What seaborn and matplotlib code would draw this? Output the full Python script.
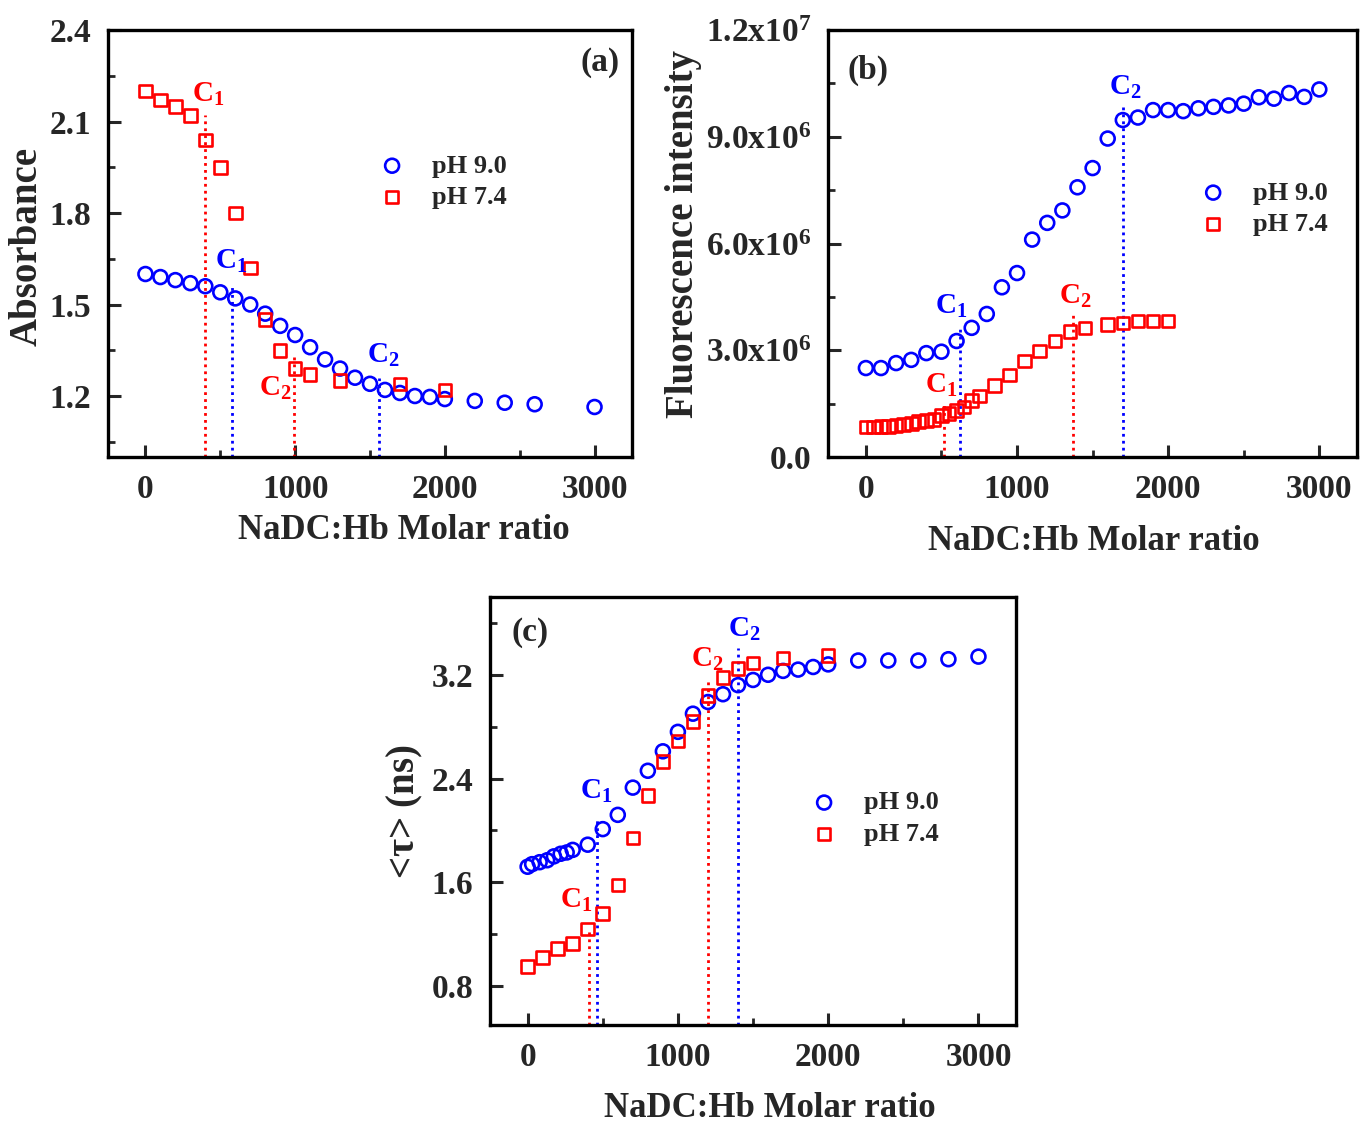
import numpy as np
import matplotlib
matplotlib.use("Agg")
import matplotlib.pyplot as plt
import seaborn as sns
from matplotlib.ticker import MultipleLocator, FixedLocator, FixedFormatter

# ---- panel (a): absorbance ----
abs_x_90 = [0, 100, 200, 300, 400, 500, 600, 700, 800, 900, 1000, 1100, 1200,
            1300, 1400, 1500, 1600, 1700, 1800, 1900, 2000, 2200, 2400, 2600, 3000]
abs_y_90 = [1.60, 1.59, 1.58, 1.57, 1.56, 1.54, 1.52, 1.50, 1.47, 1.43, 1.40, 1.36,
            1.32, 1.29, 1.26, 1.24, 1.22, 1.21, 1.20, 1.197, 1.19, 1.184, 1.178,
            1.173, 1.164]
abs_x_74 = [0, 100, 200, 300, 400, 500, 600, 700, 800, 900, 1000, 1100, 1300, 1700, 2000]
abs_y_74 = [2.20, 2.17, 2.15, 2.12, 2.04, 1.95, 1.80, 1.62, 1.45, 1.35, 1.29, 1.27,
            1.25, 1.24, 1.22]

# ---- panel (b): fluorescence intensity (x10^6) ----
fl_x_90 = [0, 100, 200, 300, 400, 500, 600, 700, 800, 900, 1000, 1100, 1200, 1300,
           1400, 1500, 1600, 1700, 1800, 1900, 2000, 2100, 2200, 2300, 2400, 2500,
           2600, 2700, 2800, 2900, 3000]
fl_y_90 = [2.50, 2.50, 2.64, 2.73, 2.92, 2.96, 3.26, 3.63, 4.02, 4.77, 5.17, 6.11,
           6.58, 6.93, 7.58, 8.12, 8.95, 9.47, 9.54, 9.75, 9.75, 9.72, 9.80, 9.84,
           9.88, 9.93, 10.11, 10.07, 10.23, 10.12, 10.33]
fl_x_74 = [0, 50, 100, 150, 200, 250, 300, 350, 400, 450, 500, 550, 600, 650, 700,
           750, 850, 950, 1050, 1150, 1250, 1350, 1450, 1600, 1700, 1800, 1900, 2000]
fl_y_74 = [0.84, 0.84, 0.86, 0.86, 0.89, 0.92, 0.94, 1.00, 1.03, 1.06, 1.17, 1.22,
           1.31, 1.40, 1.59, 1.71, 2.01, 2.31, 2.70, 2.98, 3.26, 3.52, 3.63, 3.73,
           3.77, 3.82, 3.82, 3.82]

# ---- panel (c): average lifetime <tau> (ns) ----
tau_x_90 = [0, 30, 80, 130, 175, 220, 260, 300, 400, 500, 600, 700, 800, 900, 1000,
            1100, 1200, 1300, 1400, 1500, 1600, 1700, 1800, 1900, 2000, 2200, 2400,
            2600, 2800, 3000]
tau_y_90 = [1.72, 1.74, 1.755, 1.77, 1.80, 1.82, 1.83, 1.85, 1.89, 2.01, 2.12, 2.33,
            2.46, 2.61, 2.76, 2.90, 2.99, 3.05, 3.12, 3.16, 3.20, 3.23, 3.24, 3.26,
            3.28, 3.31, 3.31, 3.31, 3.32, 3.34]
tau_x_74 = [0, 100, 200, 300, 400, 500, 600, 700, 800, 900, 1000, 1100, 1200, 1300,
            1400, 1500, 1700, 2000]
tau_y_74 = [0.95, 1.02, 1.09, 1.13, 1.24, 1.36, 1.58, 1.94, 2.27, 2.53, 2.69, 2.84,
            3.04, 3.18, 3.25, 3.29, 3.33, 3.35]

# critical points: x position, top of dotted line, label position (x, y)
abs_cmc_90 = [580, 1560]
abs_top_90 = [1.56, 1.26]
abs_lab_90 = [(576, 1.64), (1587, 1.334)]
abs_cmc_74 = [400, 990]
abs_top_74 = [2.12, 1.34]
abs_lab_74 = [(420, 2.19), (870, 1.226)]

fl_cmc_90 = [625, 1700]
fl_top_90 = [3.63, 9.86]
fl_lab_90 = [(563, 4.24), (1715, 10.4)]
fl_cmc_74 = [520, 1370]
fl_top_74 = [1.50, 4.00]
fl_lab_74 = [(497, 2.0), (1384, 4.5)]

tau_cmc_90 = [460, 1400]
tau_top_90 = [2.08, 3.41]
tau_lab_90 = [(459, 2.30), (1443, 3.55)]
tau_cmc_74 = [410, 1200]
tau_top_74 = [1.24, 3.17]
tau_lab_74 = [(326, 1.46), (1197, 3.32)]

fl_ticks = [0, 3e6, 6e6, 9e6, 12e6]
fl_ticklabels = ["0.0", r"3.0x10$^{6}$", r"6.0x10$^{6}$", r"9.0x10$^{6}$", r"1.2x10$^{7}$"]
c_labels = [r"C$_{1}$", r"C$_{2}$"]
series_labels = ["pH 9.0", "pH 7.4"]
BLUE = "#0000ff"
RED = "#ff0000"

sns.set_theme(style="ticks")
plt.rcParams["font.family"] = ["Liberation Serif", "DejaVu Serif"]
plt.rcParams["font.weight"] = "bold"
plt.rcParams["axes.labelweight"] = "bold"
plt.rcParams["mathtext.fontset"] = "custom"
plt.rcParams["mathtext.rm"] = "Liberation Serif:bold"
plt.rcParams["mathtext.it"] = "Liberation Serif:bold"
plt.rcParams["mathtext.bf"] = "Liberation Serif:bold"

fig = plt.figure(figsize=(13.62, 11.24), dpi=100)
ax_a = fig.add_axes([0.0793, 0.5934, 0.3847, 0.3799])
ax_b = fig.add_axes([0.608, 0.5934, 0.3884, 0.3799])
ax_c = fig.add_axes([0.3598, 0.0881, 0.3862, 0.3808])


def draw_panel(ax, x90, y90, x74, y74, scale=1.0):
    sns.scatterplot(x=x90, y=np.array(y90) * scale, ax=ax, marker="o", s=100,
                    color=BLUE, facecolors="none", edgecolor=BLUE, linewidth=1.9,
                    label=series_labels[0], zorder=3)
    sns.scatterplot(x=x74, y=np.array(y74) * scale, ax=ax, marker="s", s=82,
                    color=RED, facecolors="none", edgecolor=RED, linewidth=1.9,
                    label=series_labels[1], zorder=3)


def draw_cmc(ax, xs, tops, labs, color, ybot, scale=1.0):
    for i, (xv, top) in enumerate(zip(xs, tops)):
        ax.vlines(xv, ybot, top * scale, colors=color, linestyles=(0, (1, 1.5)), lw=2, zorder=2)
        lx, ly = labs[i]
        ax.text(lx, ly * scale, c_labels[i], color=color, fontsize=21,
                ha="center", va="center", zorder=4)


def style_axes(ax, xlab_pos, ylab_pos, ylabel):
    ax.set_xlim(-250, 3250)
    ax.xaxis.set_major_locator(MultipleLocator(1000))
    ax.xaxis.set_minor_locator(MultipleLocator(500))
    ax.tick_params(which="major", direction="in", length=9, width=2.2,
                   labelsize=24, pad=12, top=False, right=False)
    ax.tick_params(which="minor", direction="in", length=5, width=2, top=False, right=False)
    for sp in ax.spines.values():
        sp.set_linewidth(2.4)
        sp.set_color("black")
    ax.set_xlabel("NaDC:Hb Molar ratio", fontsize=25, va="center")
    ax.xaxis.set_label_coords(*xlab_pos)
    ax.set_ylabel(ylabel, fontsize=28, va="center")
    ax.yaxis.set_label_coords(*ylab_pos)
    ax.grid(False)


# (a)
draw_panel(ax_a, abs_x_90, abs_y_90, abs_x_74, abs_y_74)
ax_a.set_ylim(1.0, 2.4)
draw_cmc(ax_a, abs_cmc_74, abs_top_74, abs_lab_74, RED, 1.0)
draw_cmc(ax_a, abs_cmc_90, abs_top_90, abs_lab_90, BLUE, 1.0)
style_axes(ax_a, (0.565, -0.171), (-0.155, 0.492), "Absorbance")
ax_a.yaxis.set_major_locator(FixedLocator([1.2, 1.5, 1.8, 2.1, 2.4]))
ax_a.yaxis.set_major_formatter(FixedFormatter(["1.2", "1.5", "1.8", "2.1", "2.4"]))
ax_a.yaxis.set_minor_locator(MultipleLocator(0.15))
ax_a.text(0.977, 0.925, "(a)", transform=ax_a.transAxes, fontsize=24, ha="right", va="center")
ax_a.legend(loc="center left", bbox_to_anchor=(0.517, 0.645), frameon=False, fontsize=19,
            handlelength=1.0, handletextpad=1.0, labelspacing=0.3, borderpad=0,
            borderaxespad=0)

# (b)
draw_panel(ax_b, fl_x_90, fl_y_90, fl_x_74, fl_y_74, scale=1e6)
ax_b.set_ylim(0, 1.2e7)
draw_cmc(ax_b, fl_cmc_74, fl_top_74, fl_lab_74, RED, 0, scale=1e6)
draw_cmc(ax_b, fl_cmc_90, fl_top_90, fl_lab_90, BLUE, 0, scale=1e6)
style_axes(ax_b, (0.503, -0.197), (-0.274, 0.522), "Fluorescence intensity")
ax_b.yaxis.set_major_locator(FixedLocator(fl_ticks))
ax_b.yaxis.set_major_formatter(FixedFormatter(fl_ticklabels))
ax_b.yaxis.set_minor_locator(MultipleLocator(1.5e6))
ax_b.text(0.036, 0.906, "(b)", transform=ax_b.transAxes, fontsize=24, ha="left", va="center")
ax_b.legend(loc="center left", bbox_to_anchor=(0.703, 0.582), frameon=False, fontsize=19,
            handlelength=1.0, handletextpad=1.0, labelspacing=0.3, borderpad=0,
            borderaxespad=0)

# (c)
draw_panel(ax_c, tau_x_90, tau_y_90, tau_x_74, tau_y_74)
ax_c.set_ylim(0.5, 3.8)
draw_cmc(ax_c, tau_cmc_74, tau_top_74, tau_lab_74, RED, 0.5)
draw_cmc(ax_c, tau_cmc_90, tau_top_90, tau_lab_90, BLUE, 0.5)
style_axes(ax_c, (0.532, -0.194), (-0.162, 0.498), r"<$\tau$> (ns)")
ax_c.yaxis.set_major_locator(FixedLocator([0.8, 1.6, 2.4, 3.2]))
ax_c.yaxis.set_major_formatter(FixedFormatter(["0.8", "1.6", "2.4", "3.2"]))
ax_c.yaxis.set_minor_locator(MultipleLocator(0.4))
ax_c.text(0.04, 0.918, "(c)", transform=ax_c.transAxes, fontsize=24, ha="left", va="center")
ax_c.legend(loc="center left", bbox_to_anchor=(0.610, 0.4825), frameon=False, fontsize=19,
            handlelength=1.0, handletextpad=1.0, labelspacing=0.3, borderpad=0,
            borderaxespad=0)

fig.savefig("out.png", dpi=100)
